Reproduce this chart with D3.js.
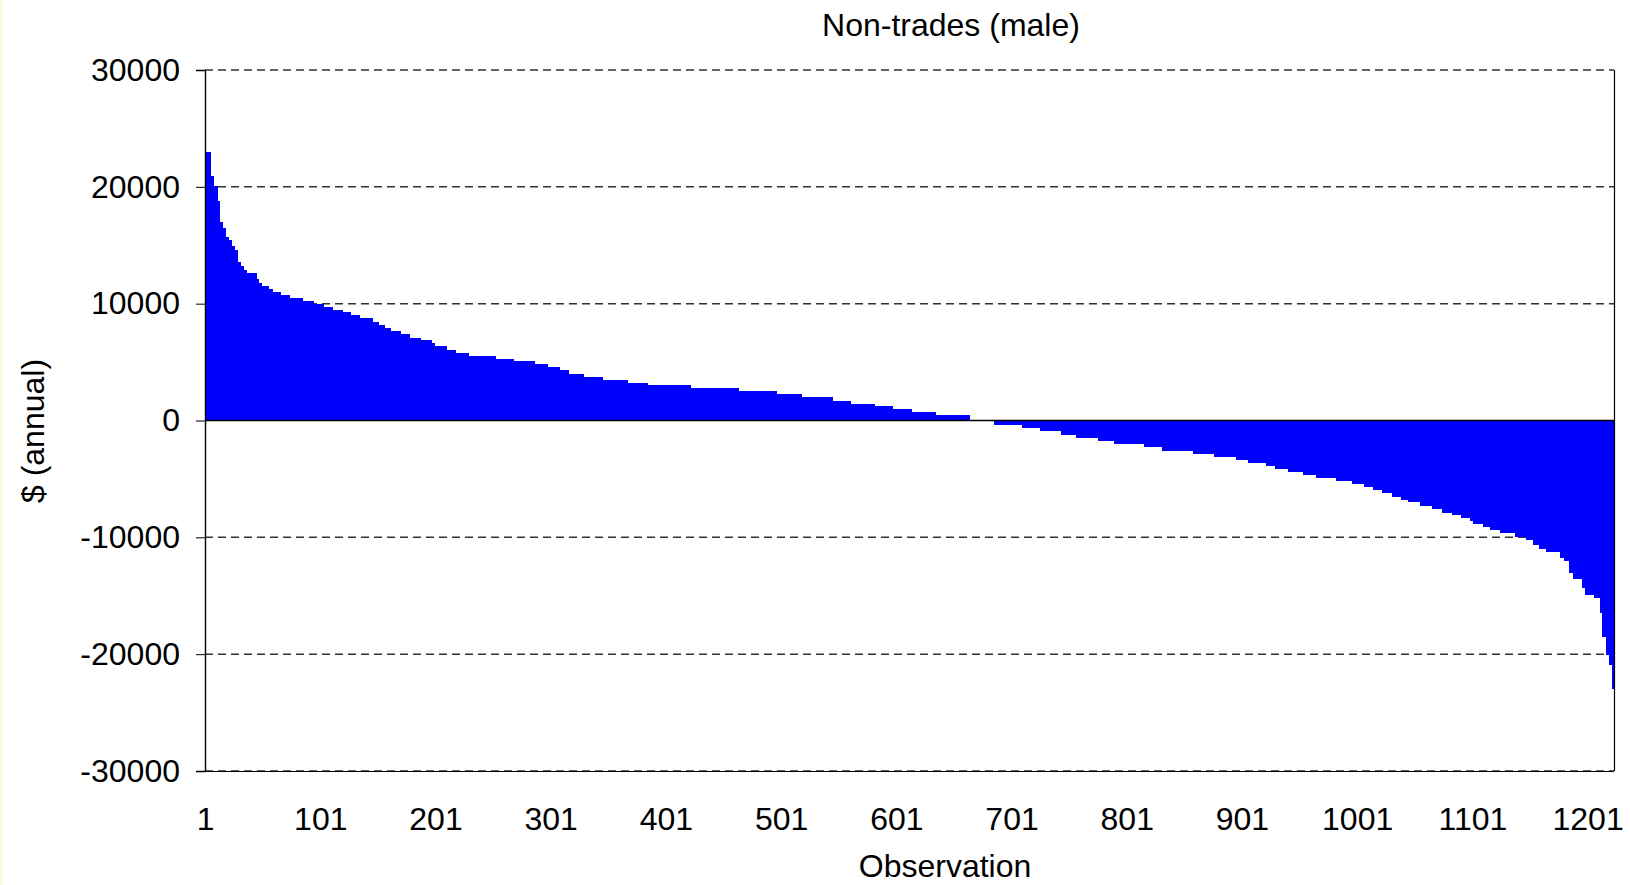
<!DOCTYPE html>
<html>
<head>
<meta charset="utf-8">
<script src="https://cdnjs.cloudflare.com/ajax/libs/d3/7.8.5/d3.min.js"></script>
<style>
  body { margin: 0; background: #fff; }
  svg { display: block; font-family: "Liberation Sans", Arial, sans-serif; }
  .grid line { stroke: #333; stroke-width: 1.5; stroke-dasharray: 8,5; }
</style>
</head>
<body>
<script>
	var width = 1630;
	var height = 885;

	// the observations come sorted, so they are read off the picture as flat steps:
	// value of the step ($ annual) and how many observations sit on it
	var posValues = [23000,20900,20100,18800,17000,16500,15700,15450,14900,14600,
	                 13600,13200,12900,12600,12100,11750,11500,11250,11000,10750,
	                 10500,10250,10000,9750,9500,9250,9000,8750,8450,8200,
	                 7900,7650,7400,7100,6850,6600,6350,6050,5800,5550,
	                 5300,5050,4800,4550,4300,4000,3750,3500,3250,3000,
	                 2750,2500,2250,2000,1700,1450,1200,950,700,450];
	var posCounts = [4,3,3,2,3,2,3,3,2,3,
	                 2,3,3,8,2,3,6,3,7,8,
	                 11,10,8,8,9,7,8,11,5,5,
	                 6,8,8,10,9,3,10,8,11,24,
	                 15,19,11,10,8,13,17,21,18,37,
	                 42,33,21,27,16,21,15,17,21,29];

	var zeroValues = [0];
	var zeroCounts = [22];

	var negValues = [-370,-660,-940,-1200,-1490,-1770,-2030,-2310,-2570,-2830,
	                 -3090,-3340,-3600,-3860,-4110,-4370,-4640,-4900,-5140,-5450,
	                 -5710,-5970,-6230,-6510,-6770,-7000,-7290,-7560,-7880,-8110,
	                 -8320,-8600,-8840,-9100,-9380,-9620,-9940,-10220,-10660,-11040,
	                 -11230,-11800,-12030,-13040,-13550,-14300,-14900,-15200,-16450,-18500,
	                 -20100,-20900,-23000];
	var negCounts = [24,16,18,13,19,14,26,16,27,18,
	                 19,10,16,8,11,13,11,18,14,10,
	                 8,8,8,8,6,11,10,9,8,8,
	                 8,3,8,6,9,13,10,6,5,6,
	                 12,4,4,3,8,3,8,5,2,3,
	                 3,2,2];

	var yTicks = [-30000,-20000,-10000,0,10000,20000,30000];
	var xTicks = [1,101,201,301,401,501,601,701,801,901,1001,1101,1201];

	var title = "Non-trades (male)";
	var xTitle = "Observation";
	var yTitle = "$ (annual)";

	// unroll the steps into one value per observation
	var values = [];
	function addSteps(vals, counts) {
		vals.forEach(function(v, i) {
			for (var k = 0; k < counts[i]; k++) values.push(v);
		});
	}
	addSteps(posValues, posCounts);
	addSteps(zeroValues, zeroCounts);
	addSteps(negValues, negCounts);

	var data = values.map(function(v, i) { return { obs: i + 1, value: v }; });

	var plot = { left: 205, right: 1614, top: 70, bottom: 771 };

	var svg = d3.select("body")
		.append("svg")
		.attr("width", width)
		.attr("height", height);

	svg.append("rect")
		.attr("width", width)
		.attr("height", height)
		.attr("fill", "#fff");

	// faint cream strip on the left edge
	svg.append("rect")
		.attr("x", 0).attr("y", 0)
		.attr("width", 2).attr("height", height)
		.attr("fill", "#fbf8dc");

	var x = d3.scaleBand()
		.domain(data.map(function(d) { return d.obs; }))
		.range([plot.left, plot.right])
		.padding(0);

	var y = d3.scaleLinear()
		.domain([-30000, 30000])
		.range([plot.bottom, plot.top]);

	// gridlines
	svg.append("g")
		.attr("class", "grid")
		.selectAll("line")
		.data(yTicks.filter(function(t) { return t != 0; }))
		.enter()
		.append("line")
		.attr("x1", plot.left)
		.attr("x2", plot.right)
		.attr("y1", function(d) { return y(d); })
		.attr("y2", function(d) { return y(d); });

	// bars (crisp + slight overlap so no seams show between neighbours)
	var bw = x.bandwidth();
	svg.append("g")
		.attr("shape-rendering", "crispEdges")
		.selectAll("rect")
		.data(data.filter(function(d) { return d.value != 0; }))
		.enter()
		.append("rect")
		.attr("x", function(d) { return x(d.obs); })
		.attr("width", bw + 1)
		.attr("y", function(d) { return Math.min(y(d.value), y(0)); })
		.attr("height", function(d) { return Math.abs(y(d.value) - y(0)); })
		.attr("fill", "#0000ff");

	// plot frame (right + bottom)
	svg.append("line")
		.attr("x1", plot.right + 0.5).attr("x2", plot.right + 0.5)
		.attr("y1", plot.top).attr("y2", plot.bottom)
		.attr("stroke", "#000").attr("stroke-width", 1.2);
	svg.append("line")
		.attr("x1", plot.left).attr("x2", plot.right)
		.attr("y1", plot.bottom + 0.5).attr("y2", plot.bottom + 0.5)
		.attr("stroke", "#000").attr("stroke-width", 1);

	// zero line (category axis crosses here)
	svg.append("line")
		.attr("x1", plot.left).attr("x2", plot.right)
		.attr("y1", y(0)).attr("y2", y(0))
		.attr("stroke", "#000").attr("stroke-width", 1.6);

	// y axis
	var yAxis = svg.append("g")
		.attr("transform", "translate(" + plot.left + ",0)")
		.call(d3.axisLeft(y)
			.tickValues(yTicks)
			.tickSize(9)
			.tickPadding(16)
			.tickFormat(function(d) { return String(d); }));
	yAxis.select(".domain").attr("stroke", "#000").attr("stroke-width", 1.4);
	yAxis.selectAll(".tick line").attr("stroke", "#000");
	yAxis.selectAll("text")
		.attr("font-size", 32)
		.attr("font-family", "'Liberation Sans', Arial, sans-serif")
		.attr("fill", "#000");

	// x labels sit at the bottom of the plot
	var xAxis = svg.append("g")
		.attr("transform", "translate(0," + plot.bottom + ")")
		.call(d3.axisBottom(x)
			.tickValues(xTicks)
			.tickSize(0)
			.tickPadding(36));
	xAxis.select(".domain").remove();
	xAxis.selectAll("text")
		.attr("font-size", 32)
		.attr("font-family", "'Liberation Sans', Arial, sans-serif")
		.attr("fill", "#000");

	// titles
	svg.append("text")
		.attr("x", 951)
		.attr("y", 36)
		.attr("text-anchor", "middle")
		.attr("font-size", 32)
		.text(title);

	svg.append("text")
		.attr("x", 945)
		.attr("y", 877)
		.attr("text-anchor", "middle")
		.attr("font-size", 32)
		.text(xTitle);

	svg.append("text")
		.attr("transform", "translate(44,431) rotate(-90)")
		.attr("text-anchor", "middle")
		.attr("font-size", 32)
		.text(yTitle);
</script>
</body>
</html>
